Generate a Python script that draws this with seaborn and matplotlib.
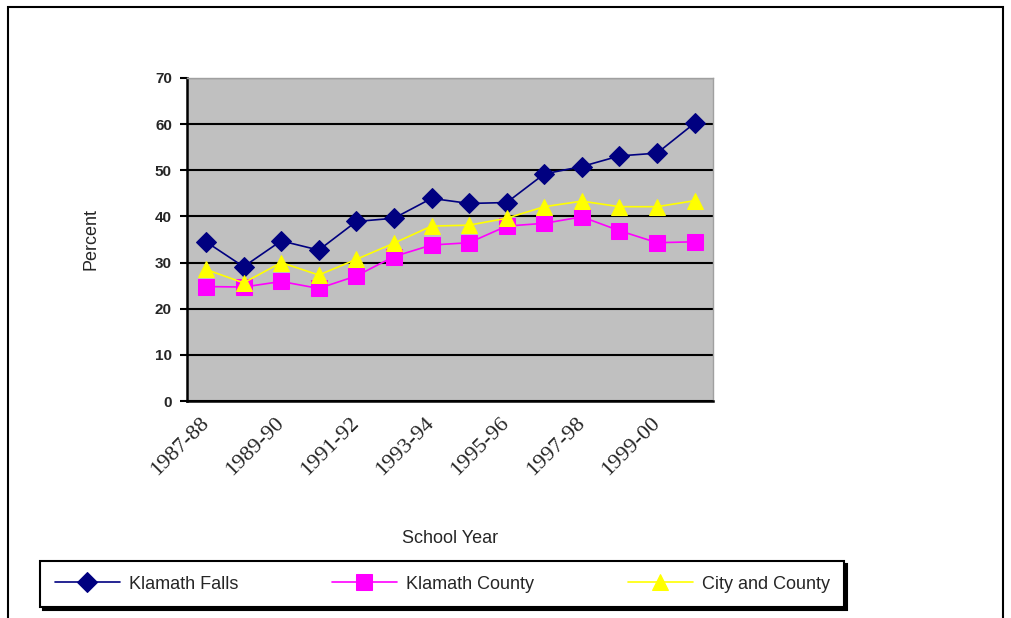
import numpy as np
import pandas as pd
import matplotlib
matplotlib.use("Agg")
import matplotlib.pyplot as plt
from matplotlib.patches import Rectangle
import seaborn as sns

# data
years = ["1987-88", "1988-89", "1989-90", "1990-91", "1991-92", "1992-93", "1993-94",
         "1994-95", "1995-96", "1996-97", "1997-98", "1998-99", "1999-00", "2000-01"]
klamath_falls = [34.5, 29.1, 34.7, 32.7, 38.9, 39.6, 43.9, 42.8, 43.0, 49.2, 50.8, 53.1, 53.7, 60.2]
klamath_county = [24.8, 24.7, 25.9, 24.4, 27.1, 31.3, 33.8, 34.3, 37.9, 38.5, 39.9, 36.9, 34.3, 34.5]
city_and_county = [28.5, 25.6, 30.0, 27.3, 30.7, 34.2, 37.9, 38.1, 39.6, 42.1, 43.3, 42.1, 42.1, 43.4]
series_names = ["Klamath Falls", "Klamath County", "City and County"]
y_ticks = [0, 10, 20, 30, 40, 50, 60, 70]

df = pd.DataFrame({
    "year": years,
    "Klamath Falls": klamath_falls,
    "Klamath County": klamath_county,
    "City and County": city_and_county,
})
long_df = df.melt(id_vars="year", var_name="series", value_name="percent")
long_df["pos"] = long_df["year"].map({y: i for i, y in enumerate(years)})

sns.set_style("white")
plt.rcParams["font.family"] = ["Liberation Sans", "DejaVu Sans"]

fig = plt.figure(figsize=(10.12, 6.18), dpi=100)
ax = fig.add_axes([0.185, 0.351, 0.52, 0.523])

palette = {"Klamath Falls": "#000080", "Klamath County": "#FF00FF", "City and County": "#FFFF00"}
markers = {"Klamath Falls": "D", "Klamath County": "s", "City and County": "^"}
sizes = {"Klamath Falls": 10, "Klamath County": 11, "City and County": 11}

for name in series_names:
    sub = long_df[long_df["series"] == name]
    sns.lineplot(data=sub, x="pos", y="percent", color=palette[name], marker=markers[name],
                 markersize=sizes[name], markeredgecolor=palette[name], linewidth=1.2,
                 label=name, ax=ax, legend=False)

ax.set_facecolor("#C0C0C0")
ax.set_xlim(-0.5, len(years) - 0.5)
ax.set_ylim(0, 70)
ax.set_yticks(y_ticks)
ax.set_yticklabels([str(v) for v in y_ticks], fontsize=11, fontweight="bold")
ax.yaxis.grid(True, color="black", linewidth=1.5)
ax.set_axisbelow(True)

# category boundary tick marks, labels on every other category
ax.set_xticks(np.arange(len(years))[::2])
ax.set_xticklabels(years[::2], rotation=45, ha="right", va="center", rotation_mode="anchor",
                   fontsize=16, family="Liberation Serif")
ax.set_xticks(np.arange(len(years) + 1) - 0.5, minor=True)
ax.tick_params(axis="x", which="major", length=0, pad=14)
ax.tick_params(axis="x", which="minor", length=5, width=1.5, color="black", direction="out")
ax.tick_params(axis="y", length=5, width=1.5, color="black", direction="out", left=True, pad=6)

for side in ["left", "bottom"]:
    ax.spines[side].set_color("black")
    ax.spines[side].set_linewidth(1.8)
for side in ["top", "right"]:
    ax.spines[side].set_color("#A0A0A0")
    ax.spines[side].set_linewidth(1)

ax.set_xlabel("School Year", fontsize=13, labelpad=36)
ax.set_ylabel("Percent", fontsize=13, labelpad=40)

handles, labels = ax.get_legend_handles_labels()
leg = fig.legend(handles, labels, loc="center", bbox_to_anchor=(0.437, 0.055), ncol=3,
                 fontsize=13, frameon=True, fancybox=False,
                 shadow={"color": "black", "alpha": 1},
                 handlelength=3.6, columnspacing=5.2, borderpad=0.8, handletextpad=0.5)
leg.get_frame().set_edgecolor("black")
leg.get_frame().set_linewidth(1.5)

# outer chart border
fig.patches.append(Rectangle((8 / 1012, -0.02), 995 / 1012, 1.02 - 7 / 618,
                             transform=fig.transFigure, fill=False, edgecolor="black",
                             linewidth=1.5))

fig.savefig("out.png", dpi=100)
